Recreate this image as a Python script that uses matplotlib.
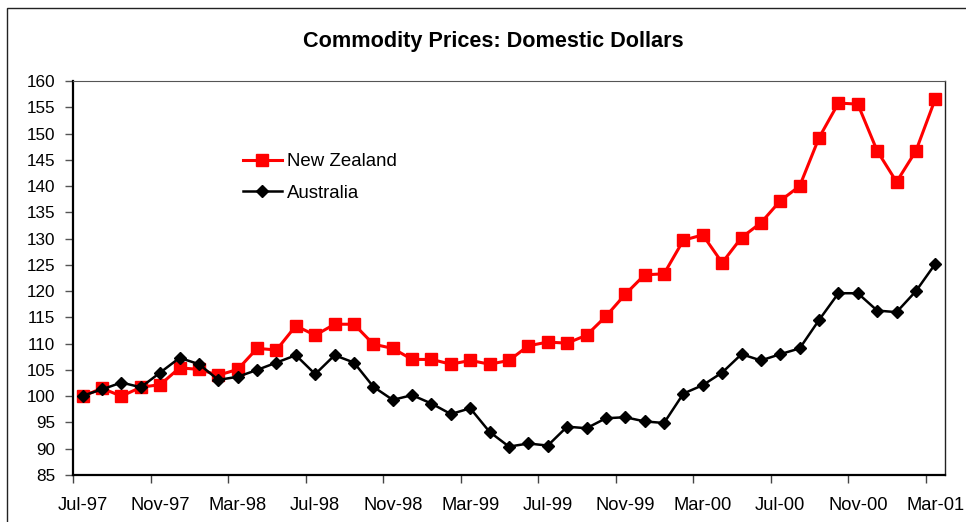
import matplotlib.pyplot as plt
from matplotlib.patches import Rectangle

plt.rcParams['font.family'] = ['Liberation Sans', 'DejaVu Sans']

# monthly, Jul-97 .. Mar-01
months = ['Jul-97', 'Aug-97', 'Sep-97', 'Oct-97', 'Nov-97', 'Dec-97',
          'Jan-98', 'Feb-98', 'Mar-98', 'Apr-98', 'May-98', 'Jun-98',
          'Jul-98', 'Aug-98', 'Sep-98', 'Oct-98', 'Nov-98', 'Dec-98',
          'Jan-99', 'Feb-99', 'Mar-99', 'Apr-99', 'May-99', 'Jun-99',
          'Jul-99', 'Aug-99', 'Sep-99', 'Oct-99', 'Nov-99', 'Dec-99',
          'Jan-00', 'Feb-00', 'Mar-00', 'Apr-00', 'May-00', 'Jun-00',
          'Jul-00', 'Aug-00', 'Sep-00', 'Oct-00', 'Nov-00', 'Dec-00',
          'Jan-01', 'Feb-01', 'Mar-01']

new_zealand = [100.0, 101.5, 100.0, 101.7, 102.2, 105.4, 105.1, 104.0, 105.1,
               109.1, 108.8, 113.4, 111.6, 113.7, 113.7, 109.9, 109.1, 107.0,
               107.0, 106.1, 106.8, 106.1, 106.8, 109.6, 110.3, 110.1, 111.6,
               115.2, 119.4, 123.1, 123.3, 129.7, 130.7, 125.4, 130.2, 133.0,
               137.2, 140.0, 149.2, 155.8, 155.6, 146.7, 140.8, 146.7, 156.6]

australia = [100.1, 101.3, 102.6, 101.7, 104.5, 107.3, 106.1, 103.1, 103.7,
             105.0, 106.4, 107.8, 104.2, 107.8, 106.4, 101.8, 99.3, 100.2,
             98.6, 96.6, 97.7, 93.2, 90.4, 91.0, 90.6, 94.2, 93.9, 95.8,
             96.0, 95.2, 94.9, 100.5, 102.1, 104.5, 108.0, 106.8, 108.0,
             109.1, 114.5, 119.6, 119.6, 116.3, 116.0, 120.0, 125.2]

W, H = 966, 522
fig = plt.figure(figsize=(W / 100, H / 100), dpi=100)
ax = fig.add_axes([73 / W, 1 - 475 / H, 872 / W, 394 / H])

# outer chart frame
fig.patches.append(Rectangle((7 / W, -0.05), 1.2, 1 - 8 / H + 0.05,
                             transform=fig.transFigure, fill=False,
                             edgecolor='#222222', linewidth=1.0))

x = list(range(len(months)))
ax.plot(x, new_zealand, color='red', lw=2.2, marker='s', markersize=8,
        markeredgecolor='red', label='New Zealand', zorder=3)
ax.plot(x, australia, color='black', lw=1.8, marker='D', markersize=6.5,
        label='Australia', zorder=4)

ax.set_xlim(-0.5, len(months) - 0.5)
ax.set_ylim(85, 160)
ax.set_yticks(range(85, 161, 5))

# labels under every 4th month, tick marks between categories
ax.set_xticks(x[::4])
ax.set_xticklabels(months[::4])
ax.set_xticks([i - 0.5 for i in x[::4]], minor=True)
ax.tick_params(axis='x', which='major', length=0, pad=16, labelsize=13.2)
ax.tick_params(axis='x', which='minor', length=6, width=1, color='#444444',
               direction='out')
ax.tick_params(axis='y', length=6, width=1, color='#555555', labelsize=12.3,
               pad=7)

for s in ['left', 'bottom']:
    ax.spines[s].set_linewidth(1.6)
    ax.spines[s].set_color('black')
ax.spines['top'].set_linewidth(0.8)
ax.spines['top'].set_color('#555555')
ax.spines['right'].set_linewidth(1.0)
ax.spines['right'].set_color('#222222')

ax.legend(loc='upper left', bbox_to_anchor=(0.186, 0.835), frameon=False,
          fontsize=13.4, handlelength=2.1, handletextpad=0.27,
          labelspacing=0.77, borderaxespad=0)

fig.text(493 / W, 1 - 41 / H, 'Commodity Prices: Domestic Dollars',
         ha='center', va='center', fontsize=15.6, fontweight='bold')

fig.savefig('out.png', dpi=100)
